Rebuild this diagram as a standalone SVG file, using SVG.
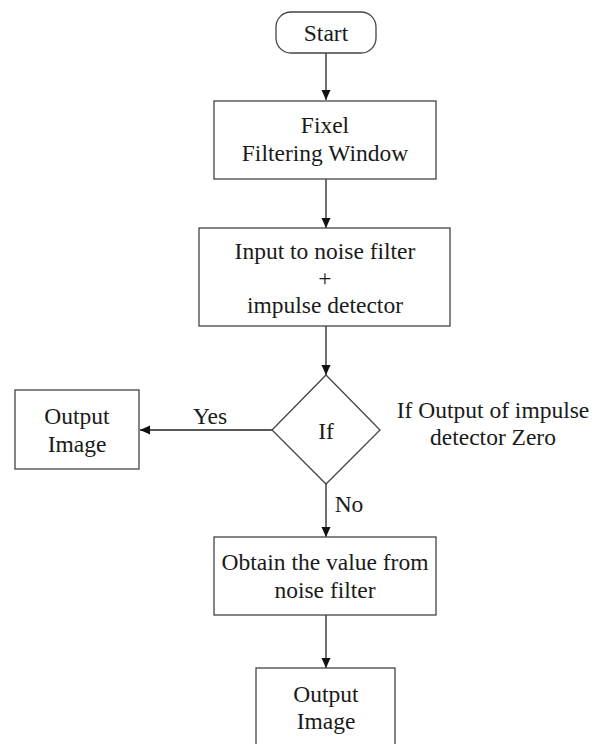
<svg xmlns="http://www.w3.org/2000/svg" width="598" height="744" viewBox="0 0 598 744">
<defs>
<style>
.box{fill:#fff;stroke:#444;stroke-width:1.3}
.t{font-family:'Liberation Serif','DejaVu Serif','Times New Roman',serif;font-size:23.5px;fill:#1a1a1a;text-anchor:middle}
.c{stroke:#222;stroke-width:1.3;fill:none}
</style>
<marker id="ah" markerWidth="10" markerHeight="10" refX="10" refY="5" orient="auto" markerUnits="userSpaceOnUse">
<path d="M0,0.5 L10,5 L0,9.5 Z" fill="#111"/>
</marker>
</defs>
<rect width="598" height="744" fill="#fff"/>
<g id="connectors">
<line class="c" x1="326" y1="53" x2="326" y2="100" marker-end="url(#ah)"/>
<line class="c" x1="326" y1="179" x2="326" y2="228" marker-end="url(#ah)"/>
<line class="c" x1="326" y1="326" x2="326" y2="375" marker-end="url(#ah)"/>
<line class="c" x1="272" y1="430" x2="140" y2="430" marker-end="url(#ah)"/>
<line class="c" x1="326" y1="484" x2="326" y2="537" marker-end="url(#ah)"/>
<line class="c" x1="326" y1="615" x2="326" y2="668" marker-end="url(#ah)"/>
<text class="t" x="210" y="424">Yes</text>
<text class="t" x="349" y="512">No</text>
</g>
<g id="start">
<rect class="box" x="276" y="12" width="100" height="41" rx="15"/>
<text class="t" x="326" y="41">Start</text>
</g>
<g id="fixel">
<rect class="box" x="214" y="101" width="222" height="78"/>
<text class="t" x="325" y="133">Fixel</text>
<text class="t" x="325" y="161">Filtering Window</text>
</g>
<g id="input">
<rect class="box" x="199" y="228" width="251" height="98"/>
<text class="t" x="325" y="259">Input to noise filter</text>
<text class="t" x="325" y="286">+</text>
<text class="t" x="325" y="313">impulse detector</text>
</g>
<g id="decision">
<polygon class="box" points="326,375 380,430 326,484 272,430"/>
<text class="t" x="326" y="439">If</text>
</g>
<g id="condition-note">
<text class="t" x="493" y="418">If Output of impulse</text>
<text class="t" x="493" y="445">detector Zero</text>
</g>
<g id="output-left">
<rect class="box" x="15" y="390" width="124" height="79"/>
<text class="t" x="77" y="424">Output</text>
<text class="t" x="77" y="452">Image</text>
</g>
<g id="obtain">
<rect class="box" x="214" y="537" width="222" height="78"/>
<text class="t" x="325" y="570">Obtain the value from</text>
<text class="t" x="325" y="598">noise filter</text>
</g>
<g id="output-bottom">
<rect class="box" x="256" y="668" width="139" height="80"/>
<text class="t" x="326" y="702">Output</text>
<text class="t" x="326" y="729">Image</text>
</g>
</svg>
